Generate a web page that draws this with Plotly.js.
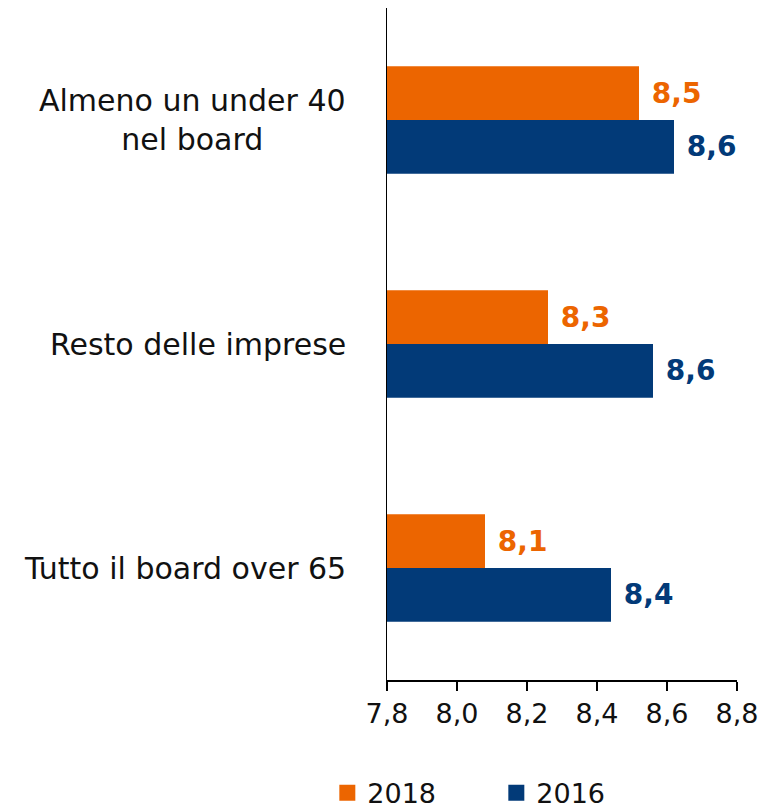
<!DOCTYPE html>
<html>
<head>
<meta charset="utf-8">
<script src="https://cdn.plot.ly/plotly-3.0.1.min.js"></script>
<style>html,body{margin:0;padding:0;background:#fff;}#chart{width:772px;height:811px;}</style>
</head>
<body>
<div id="chart"></div>
<script>
const categories = ["Almeno un under 40<br>nel board", "Resto delle imprese", "Tutto il board over 65"];
const values2018 = [8.52, 8.26, 8.08];
const values2016 = [8.62, 8.56, 8.44];
const seriesNames = ["2018", "2016"];
const tickValues = [7.8, 8.0, 8.2, 8.4, 8.6, 8.8];

const colOrange = "#EC6500";
const colNavy = "#023A78";
const FONT = "DejaVu Sans";

function barTrace(name, vals, color) {
  return {
    type: "bar", orientation: "h", name: name,
    y: categories, x: vals,
    marker: {color: color},
    texttemplate: "\u00a0%{x:.1f}",
    textposition: "outside",
    textfont: {family: FONT, size: 28, color: color, weight: "bold"},
    cliponaxis: false,
    showlegend: false,
    hoverinfo: "skip"
  };
}
function legendTrace(name, color) {
  return {
    type: "scatter", mode: "markers", name: name,
    x: [null], y: [null],
    marker: {symbol: "square", size: 16, color: color},
    showlegend: true, hoverinfo: "skip"
  };
}

const data = [
  barTrace(seriesNames[0], values2018, colOrange),
  barTrace(seriesNames[1], values2016, colNavy),
  legendTrace(seriesNames[0], colOrange),
  legendTrace(seriesNames[1], colNavy)
];

const annotations = categories.map(c => ({
  xref: "paper", yref: "y", x: -0.111, y: c,
  text: c, showarrow: false, xanchor: "right", yanchor: "middle", align: "center",
  font: {family: FONT, size: 30, color: "#111"}
}));

const layout = {
  width: 772, height: 811,
  margin: {l: 387, r: 35, t: 8, b: 131, autoexpand: false},
  paper_bgcolor: "#fff", plot_bgcolor: "#fff",
  separators: ",.",
  barmode: "group", bargap: 0.52, bargroupgap: 0,
  font: {family: FONT, color: "#111"},
  xaxis: {
    range: [7.8, 8.8], tickvals: tickValues, tickformat: ".1f",
    showgrid: false, zeroline: false,
    showline: true, linecolor: "#000", linewidth: 1.5,
    ticks: "outside", ticklen: 9, tickcolor: "#000", tickwidth: 1.5,
    tickfont: {family: FONT, size: 27, color: "#111"},
    fixedrange: true
  },
  yaxis: {
    type: "category", autorange: "reversed",
    showgrid: false, zeroline: false,
    showline: true, linecolor: "#000", linewidth: 1.5,
    showticklabels: false, ticks: "",
    fixedrange: true
  },
  annotations: annotations,
  legend: {
    orientation: "h", xref: "container", yref: "container",
    x: 0.424, xanchor: "left", y: 0.022, yanchor: "middle",
    font: {family: FONT, size: 27, color: "#111"},
    entrywidth: 124, itemwidth: 30
  }
};

Plotly.newPlot("chart", data, layout, {displayModeBar: false, staticPlot: true});
</script>
</body>
</html>
